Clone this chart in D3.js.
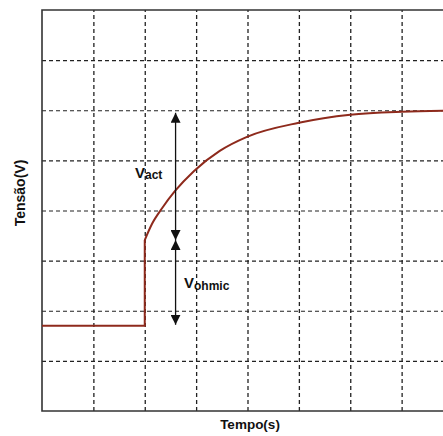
<!DOCTYPE html>
<html>
<head>
<meta charset="utf-8">
<script src="https://cdnjs.cloudflare.com/ajax/libs/d3/7.8.5/d3.min.js"></script>
<style>
  body { margin: 0; background: #fff; }
  text { font-family: "Liberation Sans", Arial, sans-serif; font-weight: bold; fill: #111; }
</style>
</head>
<body>
<div id="chart"></div>
<script>
var outerWidth = 443, outerHeight = 436

var margins = {top: 10, right: -10, bottom: 25, left: 42}

var innerWidth = outerWidth - margins.left - margins.right
var innerHeight = outerHeight - margins.top - margins.bottom

// grid divisions
var xTicks = [1, 2, 3, 4, 5, 6, 7]
var yTicks = [1, 2, 3, 4, 5, 6, 7]

// before the load step
var stepTempo = [0, 2, 2]
var stepTensao = [1.7, 1.7, 3.41]

// recovery after the step
var curveTempo = [2, 2.14, 2.34, 2.59, 2.96, 3.46, 3.99, 5, 6, 7, 8]
var curveTensao = [3.41, 3.73, 4.05, 4.39, 4.79, 5.19, 5.47, 5.75, 5.91, 5.97, 5.99]

// annotation arrows
var arrowTempo = 2.6
var vactRange = [5.95, 3.41]
var vohmicRange = [3.41, 1.72]

var svg = d3.select("#chart").append("svg")
    .attr("width", outerWidth)
    .attr("height", outerHeight)

var defs = svg.append("defs")
function addHead(id, d, refX) {
    defs.append("marker")
        .attr("id", id)
        .attr("viewBox", "0 0 10 10")
        .attr("refX", refX)
        .attr("refY", 5)
        .attr("markerWidth", 10)
        .attr("markerHeight", 10)
        .attr("markerUnits", "userSpaceOnUse")
        .attr("orient", "auto")
      .append("path")
        .attr("d", d)
        .attr("fill", "#111")
}
addHead("headEnd", "M0,0 L10,5 L0,10 Z", 10)
addHead("headStart", "M10,0 L0,5 L10,10 Z", 0)

var plot = svg.append("g")
    .attr("transform", "translate(" + margins.left + "," + margins.top + ")")

var xScale = d3.scaleLinear().domain([0, 8]).range([0, innerWidth])
var yScale = d3.scaleLinear().domain([0, 8]).range([innerHeight, 0])

// vertical grid
var gx = plot.append("g")
    .attr("transform", "translate(0," + innerHeight + ")")
    .call(d3.axisBottom(xScale).tickValues(xTicks).tickSizeInner(-innerHeight).tickSizeOuter(0).tickFormat(""))
gx.select(".domain").remove()
gx.selectAll("line")
    .attr("stroke", "#222")
    .attr("stroke-width", 1.3)
    .attr("stroke-dasharray", "4,3")

// horizontal grid
var gy = plot.append("g")
    .call(d3.axisLeft(yScale).tickValues(yTicks).tickSizeInner(-innerWidth).tickSizeOuter(0).tickFormat(""))
gy.select(".domain").remove()
gy.selectAll("line")
    .attr("stroke", "#222")
    .attr("stroke-width", 1.1)
    .attr("stroke-dasharray", "4,3")

// frame
plot.append("path")
    .attr("d", "M" + innerWidth + ",0 H0 V" + innerHeight + " H" + innerWidth)
    .attr("fill", "none")
    .attr("stroke", "#333")
    .attr("stroke-width", 1.6)

var stepData = stepTempo.map(function(t, i) { return {x: t, y: stepTensao[i]} })
var curveData = curveTempo.map(function(t, i) { return {x: t, y: curveTensao[i]} })

var line = d3.line()
    .x(function(d) { return xScale(d.x) })
    .y(function(d) { return yScale(d.y) })

plot.append("path")
    .datum(stepData)
    .attr("d", line)
    .attr("fill", "none")
    .attr("stroke", "#8e2a1c")
    .attr("stroke-width", 2)

plot.append("path")
    .datum(curveData)
    .attr("d", line.curve(d3.curveMonotoneX))
    .attr("fill", "none")
    .attr("stroke", "#8e2a1c")
    .attr("stroke-width", 2)

// double headed arrows
function arrow(range) {
    var xa = xScale(arrowTempo)
    plot.append("line")
        .attr("x1", xa).attr("x2", xa)
        .attr("y1", yScale(range[0])).attr("y2", yScale(range[1]))
        .attr("stroke", "#111")
        .attr("stroke-width", 1.3)
        .attr("marker-start", "url(#headStart)")
        .attr("marker-end", "url(#headEnd)")
}
arrow(vactRange)
arrow(vohmicRange)

// labels
var vact = svg.append("text")
    .attr("x", 135)
    .attr("y", 178)
    .attr("font-size", "15px")
vact.append("tspan").text("V")
vact.append("tspan").attr("font-size", "12px").attr("dy", 1).text("act")

var vohm = svg.append("text")
    .attr("x", 184)
    .attr("y", 288)
    .attr("font-size", "15px")
vohm.append("tspan").text("V")
vohm.append("tspan").attr("font-size", "12px").attr("dy", 2).text("ohmic")

svg.append("text")
    .attr("x", 250)
    .attr("y", 429)
    .attr("text-anchor", "middle")
    .attr("font-size", "13.5px")
    .text("Tempo(s)")

svg.append("text")
    .attr("transform", "translate(25,193) rotate(-90)")
    .attr("text-anchor", "middle")
    .attr("font-size", "14px")
    .text("Tensão(V)")
</script>
</body>
</html>
